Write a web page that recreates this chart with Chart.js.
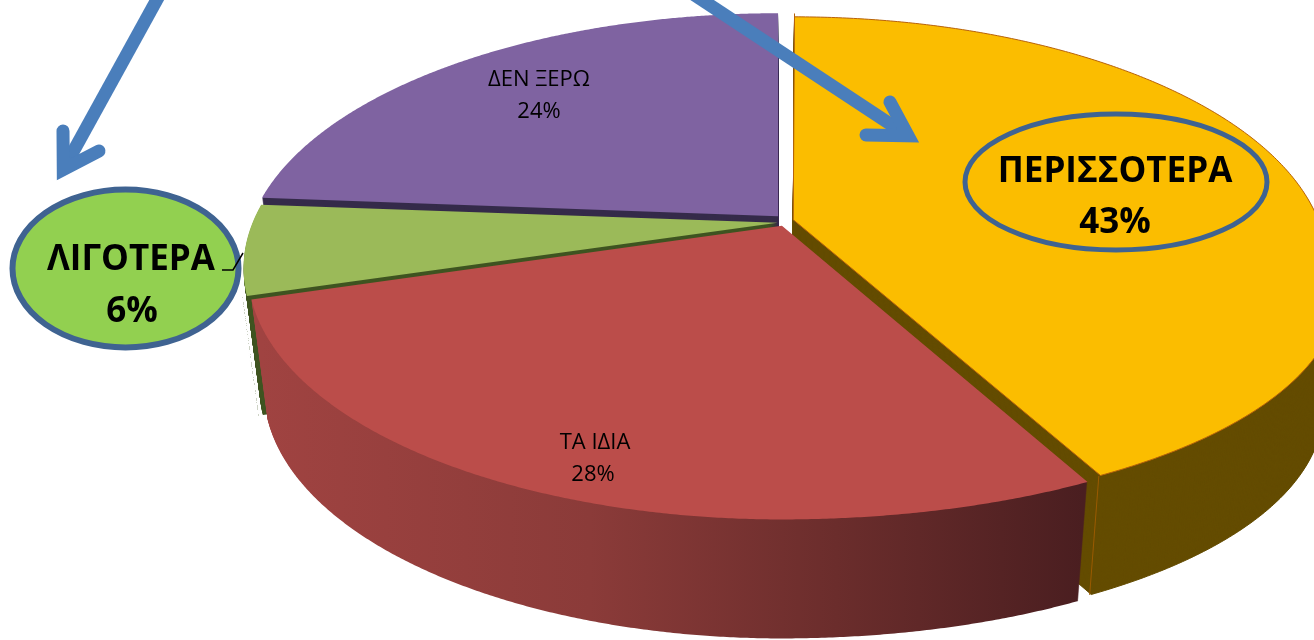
<!DOCTYPE html>
<html>
<head>
<meta charset="utf-8">
<title>Pie 3D</title>
<script src="https://cdn.jsdelivr.net/npm/chart.js@4"></script>
<style>
  html, body { margin: 0; background: #fff; }
  canvas { display: block; }
</style>
</head>
<body>
<canvas id="pie3d" width="1314" height="640"></canvas>
<script>
const categorias = ['ΠΕΡΙΣΣΟΤΕΡΑ', 'ΤΑ ΙΔΙΑ', 'ΛΙΓΟΤΕΡΑ', 'ΔΕΝ ΞΕΡΩ'];
const valores = [43, 28, 6, 24];

const coresTopo = ['#fbbd00', '#bb4d4a', '#9bba59', '#7f63a1'];
const coresLado = ['#644c00', null, '#3f5421', '#352b4a'];
const afastamento = [40, 16, 24, 32];
const bordas = [1, 0, 0, 0];
const ordemDesenho = [3, 2, 0, 1];

// tilted-disc view: flat pie -> screen
const vista = { x0: 783.5, y0: 222, sx: 525, sy: 240, p: -0.183, sk: 58, depth: 119, shrink: 0.03 };

function projetar(u, v, t) {
  const w = 1 + vista.p * v;
  // pushes the lower right quarter outwards, radial edges stay straight
  const r = Math.hypot(u, v) || 1;
  const extra = u > 0 && v > 0 ? vista.sk * u * v / r : 0;
  const x = (vista.sx * u / w + extra) * (1 - vista.shrink * t);
  const y = vista.sy * v / w + vista.depth * t;
  return [vista.x0 + x, vista.y0 + y];
}

// hands the arc element a context whose paths go through projetar()
function ctxProjetado(ctx, arc, t, corForcada) {
  const R = arc.outerRadius;
  const ponto = (x, y) => projetar((x - arc.x) / R, (y - arc.y) / R, t);
  const linha = (x, y) => { const p = ponto(x, y); ctx.lineTo(p[0], p[1]); };
  return new Proxy(ctx, {
    get(alvo, nome) {
      if (nome === 'moveTo' || nome === 'lineTo') return linha;
      if (nome === 'arc') {
        return (x, y, r, ini, fim) => {
          if (r <= 0) { linha(x, y); return; }
          const passos = 160;
          for (let i = 0; i <= passos; i++) {
            const a = ini + (fim - ini) * i / passos;
            const p = projetar(Math.cos(a), Math.sin(a), t);
            ctx.lineTo(p[0], p[1]);
          }
        };
      }
      const val = alvo[nome];
      return typeof val === 'function' ? val.bind(alvo) : val;
    },
    set(alvo, nome, val) {
      if (corForcada && (nome === 'fillStyle' || nome === 'strokeStyle')) alvo[nome] = corForcada;
      else alvo[nome] = val;
      return true;
    }
  });
}

function rotulo(ctx, texto, x, y, fonte, maxLargura) {
  ctx.font = fonte;
  ctx.fillText(texto, x, y, maxLargura);
}

function seta(ctx, ini, ponta, b1, b2, larg) {
  const dx = ponta[0] - ini[0], dy = ponta[1] - ini[1];
  const d = Math.hypot(dx, dy);
  const vx = ponta[0] - dx / d * larg, vy = ponta[1] - dy / d * larg;
  ctx.strokeStyle = '#4a7ebb';
  ctx.lineWidth = larg;
  ctx.lineCap = 'butt';
  ctx.beginPath();
  ctx.moveTo(ini[0], ini[1]);
  ctx.lineTo(vx, vy);
  ctx.stroke();
  ctx.lineCap = 'round';
  ctx.lineJoin = 'miter';
  ctx.miterLimit = 10;
  ctx.beginPath();
  ctx.moveTo(b1[0], b1[1]);
  ctx.lineTo(vx, vy);
  ctx.lineTo(b2[0], b2[1]);
  ctx.stroke();
}

// aresta vertical na quina da fatia amarela
function aresta(ctx, arc) {
  const m = (arc.startAngle + arc.endAngle) / 2;
  const o = arc.options.offset / 4;
  const a = projetar(Math.cos(arc.endAngle), Math.sin(arc.endAngle), 0);
  const b = projetar(Math.cos(arc.endAngle), Math.sin(arc.endAngle), 1);
  ctx.save();
  ctx.translate(Math.cos(m) * o, Math.sin(m) * o);
  ctx.strokeStyle = '#9a5a00';
  ctx.lineWidth = 1;
  ctx.beginPath();
  ctx.moveTo(a[0], a[1]);
  ctx.lineTo(b[0], b[1]);
  ctx.stroke();
  ctx.restore();
}

const pizza3d = {
  id: 'pizza3d',
  beforeDatasetsDraw(chart) {
    const ctx = chart.ctx;
    const arcos = chart.getDatasetMeta(0).data;

    // Lado vermelho com gradiente
    const grad = ctx.createLinearGradient(262, 0, 1085, 0);
    grad.addColorStop(0, '#a04341');
    grad.addColorStop(0.4, '#8b3b39');
    grad.addColorStop(0.7, '#6b2d2c');
    grad.addColorStop(1, '#4a1e20');

    ordemDesenho.forEach(i => {
      const cor = coresLado[i] || grad;
      for (let k = vista.depth; k > 0; k--) {
        arcos[i].draw(ctxProjetado(ctx, arcos[i], k / vista.depth, cor));
      }
      if (i === 0) aresta(ctx, arcos[i]);
      arcos[i].draw(ctxProjetado(ctx, arcos[i], 0, null));
    });
    return false;
  },
  afterDraw(chart) {
    const ctx = chart.ctx;
    ctx.save();

    // Elipses
    ctx.strokeStyle = '#3f6391';
    ctx.lineWidth = 5;
    ctx.beginPath();
    ctx.ellipse(1116, 182, 151, 68, 0, 0, Math.PI * 2);
    ctx.stroke();

    ctx.fillStyle = '#92d050';
    ctx.lineWidth = 6;
    ctx.beginPath();
    ctx.ellipse(125.5, 268.5, 113, 79, 0, 0, Math.PI * 2);
    ctx.fill();
    ctx.stroke();

    // Linha de chamada
    ctx.strokeStyle = '#000';
    ctx.lineWidth = 1.5;
    ctx.beginPath();
    ctx.moveTo(222, 270);
    ctx.lineTo(233, 270);
    ctx.lineTo(243, 253);
    ctx.stroke();

    // Setas
    seta(ctx, [690, -8], [919, 143], [890, 102], [866, 135], 13);
    seta(ctx, [160, -6], [57, 181], [63, 131], [99, 151], 13);

    // Textos
    ctx.fillStyle = '#000';
    ctx.textAlign = 'center';
    ctx.textBaseline = 'alphabetic';
    const grande = 'bold 35px "Open Sans"';
    const pequena = '22px "Open Sans"';
    rotulo(ctx, categorias[0], 1115, 182, grande, 235);
    rotulo(ctx, valores[0] + '%', 1115, 233, grande, 74);
    rotulo(ctx, categorias[2], 131, 270, grande, 168);
    rotulo(ctx, valores[2] + '%', 132, 322, grande, 52);
    rotulo(ctx, categorias[3], 539, 86, pequena, 108);
    rotulo(ctx, valores[3] + '%', 539, 118, pequena, 45);
    rotulo(ctx, categorias[1], 595, 449, pequena, 78);
    rotulo(ctx, valores[1] + '%', 593, 481, pequena, 45);
    ctx.restore();
  }
};

new Chart(document.getElementById('pie3d'), {
  type: 'pie',
  data: {
    labels: categorias,
    datasets: [{
      data: valores,
      backgroundColor: coresTopo,
      offset: afastamento,
      borderWidth: bordas,
      borderColor: '#b8620a'
    }]
  },
  options: {
    responsive: false,
    animation: false,
    events: [],
    plugins: { legend: { display: false }, tooltip: { enabled: false } }
  },
  plugins: [pizza3d]
});
</script>
</body>
</html>
